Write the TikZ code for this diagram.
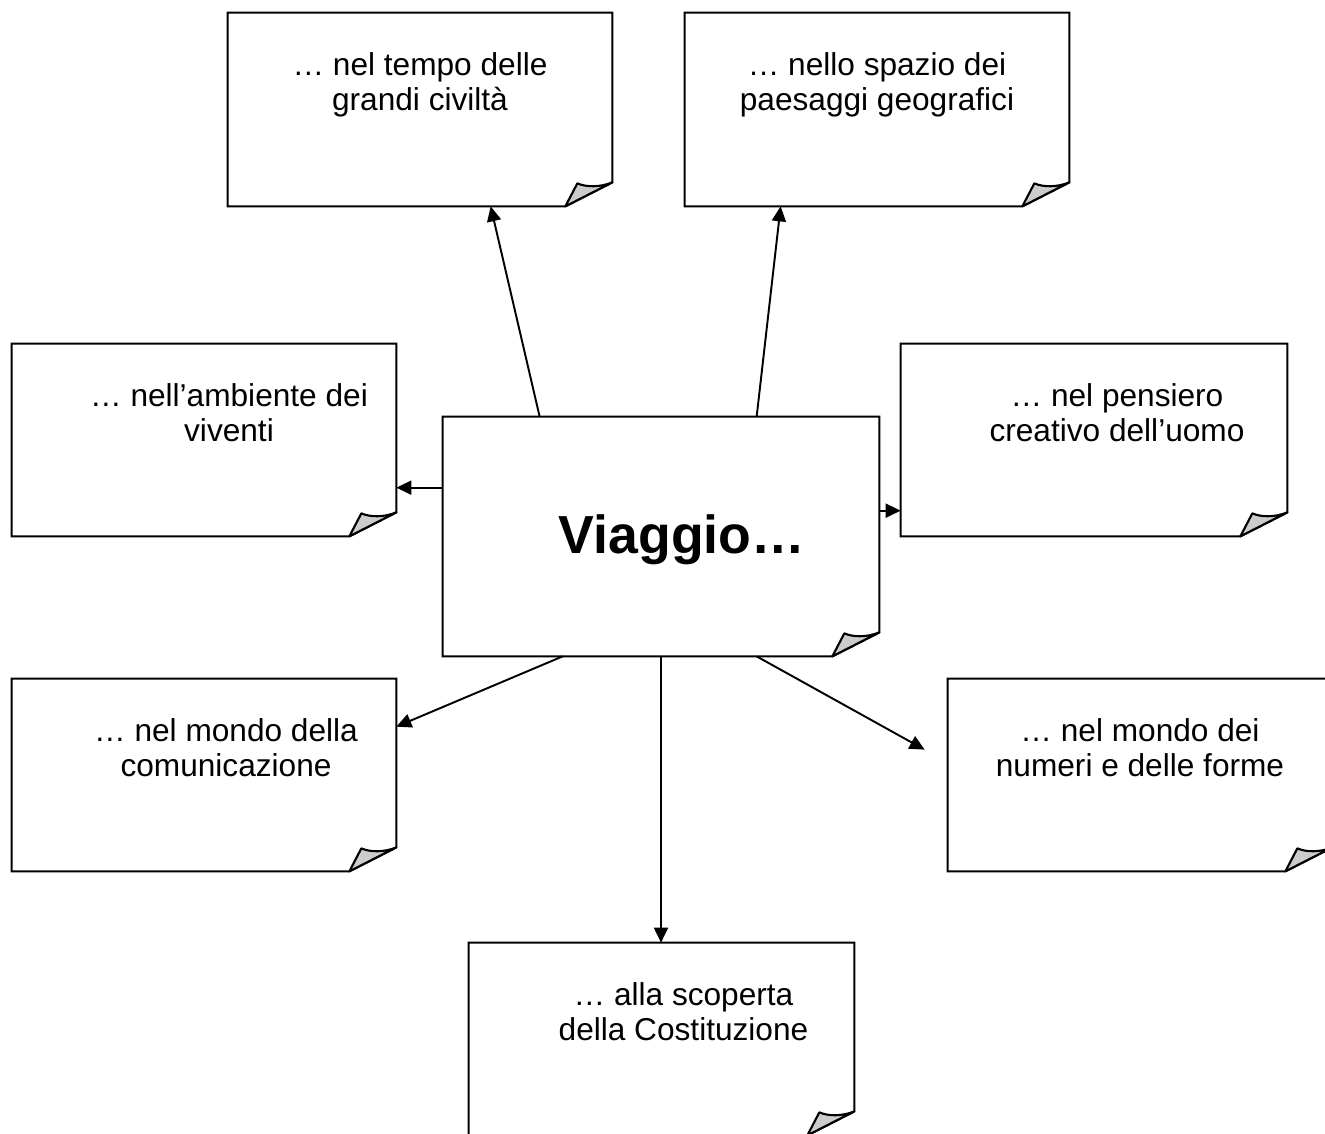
\documentclass[tikz,border=0pt]{standalone}
\usepackage{fontspec}
\setmainfont{Liberation Sans}
\usetikzlibrary{arrows.meta}
\usetikzlibrary{positioning}
\usetikzlibrary{calc}

\begin{document}
\begin{tikzpicture}[x=0.02cm,y=-0.02cm,
  paper/.style={inner sep=0pt},
  edge/.style={line width=1.2pt,line join=miter},
  curl/.style={line width=1.2pt,fill=gray!40,line join=round},
  note/.style={inner sep=0pt,align=center,font=\fontsize{18pt}{19.9pt}\selectfont},
  title/.style={inner sep=0pt,font=\fontsize{30.5pt}{36pt}\selectfont\bfseries},
  arr/.style={line width=1.1pt,-{Triangle[length=0.3cm,width=0.28cm]}}]
\useasboundingbox (0,0) rectangle (1325,1133);
% the sheets with the turned corner
\foreach \n/\x/\y/\w/\h in {tempo/420/109.5/384/193,spazio/877/109.5/384/193,
  ambiente/204/440/384/192,viaggio/661/536.5/436/239,pensiero/1094/440/386/192,
  comunicazione/204/775/384/192,numeri/1140/775/384/192,costituzione/661.5/1039/385/192}
{
  \node[paper,minimum width=\w*0.02cm,minimum height=\h*0.02cm] (\n) at (\x,\y) {};
  \draw[edge] (\n.south west) -- (\n.north west) -- (\n.north east)
    -- ($(\n.south east)+(0,-24)$) -- ($(\n.south east)+(-47,0)$) -- cycle;
  \filldraw[curl] ($(\n.south east)+(-47,0)$) -- ($(\n.south east)+(0,-24)$)
    .. controls ($(\n.south east)+(-12,-19)$) and ($(\n.south east)+(-26,-19)$) .. ($(\n.south east)+(-35,-23)$) -- cycle;
}
% texts
\node[note,below=0.8cm of tempo.north] (tempo-t) {… nel tempo delle\\grandi civiltà};
\node[note,below=0.8cm of spazio.north] (spazio-t) {… nello spazio dei\\paesaggi geografici};
\node[note,below=0.8cm of ambiente.north,xshift=0.5cm] (ambiente-t) {… nell’ambiente dei\\viventi};
\node[note,below=0.8cm of pensiero.north,xshift=0.46cm] (pensiero-t) {… nel pensiero\\creativo dell’uomo};
\node[note,below=0.8cm of comunicazione.north,xshift=0.44cm] (comunicazione-t) {… nel mondo della\\comunicazione};
\node[note,below=0.8cm of numeri.north] (numeri-t) {… nel mondo dei\\numeri e delle forme};
\node[note,below=0.8cm of costituzione.north,xshift=0.44cm] (costituzione-t) {… alla scoperta\\della Costituzione};
\node[title,xshift=0.42cm,yshift=-0.06cm] (viaggio-t) at (viaggio) {Viaggio…};
% arrows
\coordinate (numeri-in) at ($(numeri.north west)+(-23,71)$);
\draw[arr] ($(viaggio.north west)+(97,0)$) -- ($(tempo.south west)+(263,0)$);
\draw[arr] ($(viaggio.north west)+(314,0)$) -- ($(spazio.south west)+(96,0)$);
\draw[arr] ($(viaggio.north west)+(0,71)$) -- ($(ambiente.north east)+(0,144)$);
\draw[arr] ($(viaggio.north east)+(0,94)$) -- ($(pensiero.north west)+(0,167)$);
\draw[arr] ($(viaggio.south west)+(120,0)$) -- ($(comunicazione.north east)+(0,48)$);
\draw[arr] (viaggio.south) -- (viaggio.south |- costituzione.north);
\draw[arr] ($(viaggio.south west)+(314,0)$) -- (numeri-in);
\end{tikzpicture}
\end{document}
